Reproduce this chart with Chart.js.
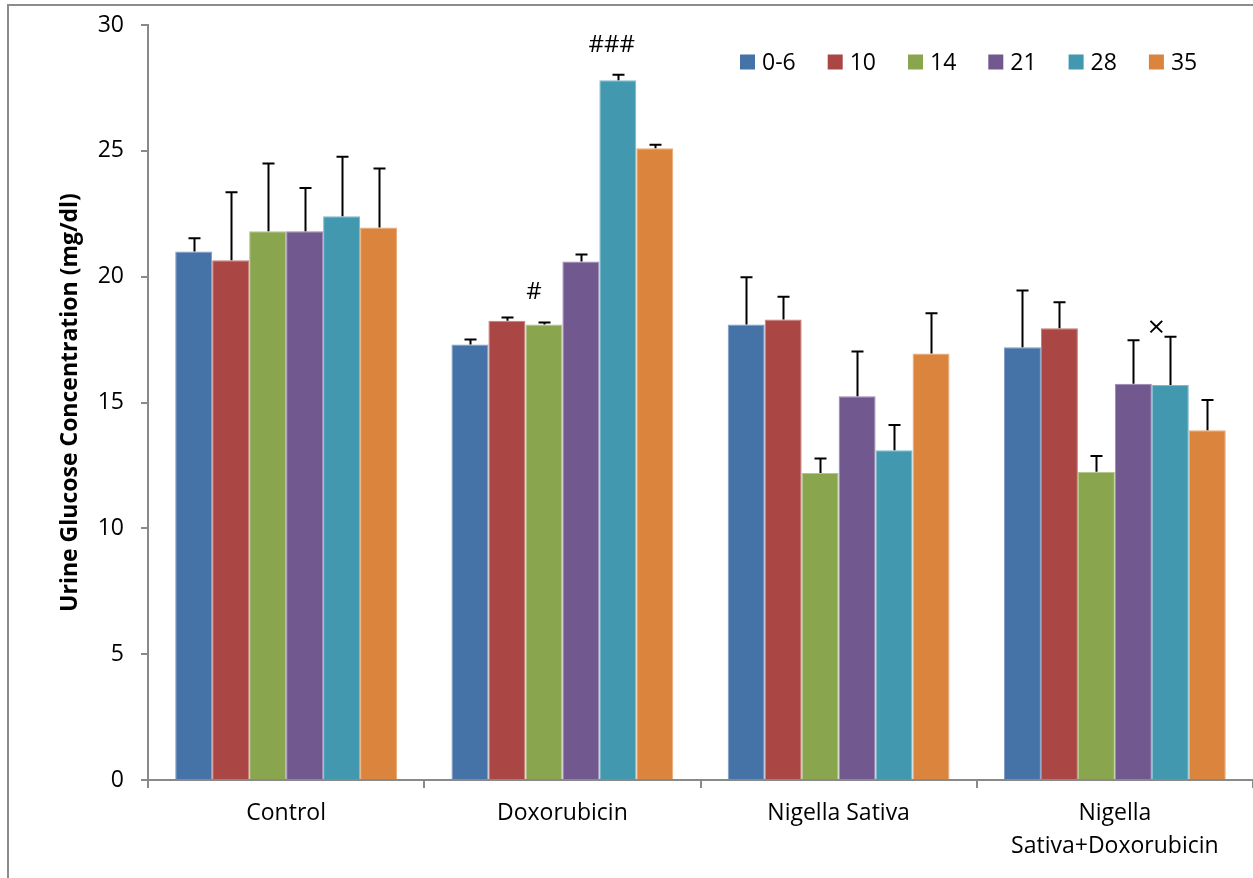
<!DOCTYPE html>
<html>
<head>
<meta charset="utf-8">
<script src="https://cdn.jsdelivr.net/npm/chart.js@4.4.1/dist/chart.umd.min.js"></script>
<style>
  html, body { margin: 0; padding: 0; background: #ffffff; }
  #wrap { width: 1253px; height: 878px; position: relative; }
</style>
</head>
<body>
<div id="wrap"><canvas id="c" width="1253" height="878"></canvas></div>
<script>
// ---- data ----
const categories = ['Control', 'Doxorubicin', 'Nigella Sativa', ['Nigella', 'Sativa+Doxorubicin']];
const seriesLabels = ['0-6', '10', '14', '21', '28', '35'];

const values_0_6 = [21.0, 17.3, 18.1, 17.2];
const values_10  = [20.65, 18.25, 18.3, 17.95];
const values_14  = [21.8, 18.1, 12.2, 12.25];
const values_21  = [21.8, 20.6, 15.25, 15.75];
const values_28  = [22.4, 27.8, 13.1, 15.7];
const values_35  = [21.95, 25.1, 16.95, 13.9];

const errors_0_6 = [0.53, 0.2, 1.88, 2.25];
const errors_10  = [2.7, 0.13, 0.9, 1.03];
const errors_14  = [2.7, 0.08, 0.57, 0.62];
const errors_21  = [1.72, 0.28, 1.78, 1.72];
const errors_28  = [2.36, 0.22, 1.01, 1.91];
const errors_35  = [2.35, 0.14, 1.6, 1.2];

const yTicks = [0, 5, 10, 15, 20, 25, 30];
const yTitle = 'Urine Glucose Concentration (mg/dl)';

// significance marks: [series index, category index, text]
const marks = [
  [2, 1, '#'],
  [4, 1, '###'],
  [4, 3, '\u00d7']
];

// ---- styling ----
const colors  = ['#4572A7', '#AA4643', '#89A54E', '#71588F', '#4198AF', '#DB843D'];
const borders = ['#7E9CC4', '#C57A78', '#B0C78A', '#9A87B2', '#7DBACB', '#E9AA77'];
const allValues = [values_0_6, values_10, values_14, values_21, values_28, values_35];
const allErrors = [errors_0_6, errors_10, errors_14, errors_21, errors_28, errors_35];
const FONT = "'Open Sans', 'DejaVu Sans', sans-serif";
const TITLE_FONT = "'Liberation Sans Narrow', 'Open Sans', sans-serif";
const AXIS_GRAY = '#898989';

const datasets = seriesLabels.map((lab, i) => ({
  label: lab,
  data: allValues[i],
  errors: allErrors[i],
  backgroundColor: colors[i],
  borderColor: borders[i],
  borderWidth: 1,
  categoryPercentage: 0.803,
  barPercentage: 1.0
}));

const frameAndLegend = {
  id: 'frameAndLegend',
  beforeDraw(chart) {
    const ctx = chart.ctx;
    ctx.save();
    ctx.fillStyle = '#ffffff';
    ctx.fillRect(0, 0, chart.width, chart.height);
    ctx.strokeStyle = '#8c8c8c';
    ctx.lineWidth = 2;
    ctx.beginPath();
    ctx.moveTo(8, chart.height + 5);
    ctx.lineTo(8, 5);
    ctx.lineTo(chart.width + 5, 5);
    ctx.stroke();
    ctx.restore();
  },
  afterDraw(chart) {
    const ctx = chart.ctx;
    ctx.save();
    ctx.font = '23px ' + FONT;
    ctx.textBaseline = 'middle';
    ctx.textAlign = 'left';
    let x = 740;
    const yc = 62;
    chart.data.datasets.forEach((ds) => {
      ctx.fillStyle = ds.backgroundColor;
      ctx.fillRect(x, yc - 7.5, 15, 15);
      ctx.fillStyle = '#000000';
      ctx.fillText(ds.label, x + 22, yc + 1);
      x += 22 + ctx.measureText(ds.label).width + 32;
    });
    ctx.restore();
  }
};

const errorBars = {
  id: 'errorBars',
  afterDatasetsDraw(chart) {
    const ctx = chart.ctx;
    const yScale = chart.scales.y;
    ctx.save();
    ctx.strokeStyle = '#000000';
    ctx.lineWidth = 2;
    chart.data.datasets.forEach((ds, di) => {
      const meta = chart.getDatasetMeta(di);
      meta.data.forEach((el, idx) => {
        const v = ds.data[idx], e = ds.errors[idx];
        const yTop = yScale.getPixelForValue(v + e);
        const x = Math.round(el.x) + 0.5;
        ctx.beginPath();
        ctx.moveTo(x, el.y);
        ctx.lineTo(x, yTop);
        ctx.moveTo(x - 6, yTop);
        ctx.lineTo(x + 6, yTop);
        ctx.stroke();
      });
    });
    // significance marks
    ctx.fillStyle = '#000000';
    ctx.textAlign = 'center';
    ctx.textBaseline = 'middle';
    marks.forEach(([si, ci, txt]) => {
      const el = chart.getDatasetMeta(si).data[ci];
      const ds = chart.data.datasets[si];
      const yTop = yScale.getPixelForValue(ds.data[ci] + ds.errors[ci]);
      if (txt === '\u00d7') {
        ctx.font = '30px ' + FONT;
        ctx.fillText(txt, el.x - 14, yTop - 8);
      } else {
        ctx.font = '24px ' + FONT;
        ctx.fillText(txt, el.x - (txt.length > 1 ? 6 : 10), yTop - 30);
      }
    });
    ctx.restore();
  }
};

new Chart(document.getElementById('c'), {
  type: 'bar',
  data: { labels: categories, datasets },
  options: {
    responsive: false,
    animation: false,
    devicePixelRatio: 1,
    layout: { autoPadding: false, padding: { top: 25, left: 0, right: 0, bottom: 0 } },
    plugins: { legend: { display: false }, tooltip: { enabled: false } },
    scales: {
      x: {
        grid: { display: true, drawOnChartArea: false, drawTicks: true, tickLength: 8, color: AXIS_GRAY, lineWidth: 2, offset: true },
        border: { display: true, color: AXIS_GRAY, width: 2 },
        ticks: { color: '#000000', font: { family: FONT, size: 23, lineHeight: 1.43 }, padding: 9, maxRotation: 0, autoSkip: false },
        afterFit(scale) { scale.height = 98; }
      },
      y: {
        min: 0, max: 30,
        afterBuildTicks(scale) { scale.ticks = yTicks.map(v => ({ value: v })); },
        grid: { display: true, drawOnChartArea: false, drawTicks: true, tickLength: 7, color: AXIS_GRAY, lineWidth: 2 },
        border: { display: true, color: AXIS_GRAY, width: 2 },
        ticks: { color: '#000000', font: { family: FONT, size: 23 }, padding: 17 },
        title: { display: true, text: yTitle, color: '#000000', font: { family: TITLE_FONT, size: 23, weight: 'bold' }, padding: { top: 57, bottom: 0 } },
        afterFit(scale) { scale.width = 148; scale.paddingTop = 0; scale.paddingBottom = 0; }
      }
    }
  },
  plugins: [frameAndLegend, errorBars]
});
</script>
</body>
</html>
